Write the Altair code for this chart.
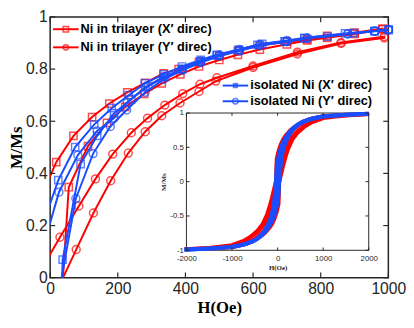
import altair as alt
import pandas as pd

RED = "#FF0000"
BLUE = "#1A4DFF"
AX = "#262626"

# ---------------- main panel ----------------
x_domain = [0, 1000]
y_domain = [0, 1]
x_ticks = [0, 200, 400, 600, 800, 1000]
y_ticks = [0, 0.2, 0.4, 0.6, 0.8, 1]

# Ni in trilayer, X' direction (squares): ascending branch then descending branch
rx_up_H = [33, 55, 112, 168, 222, 278, 330, 385, 440, 500, 555, 620, 700, 760, 819, 900, 983]
rx_up_M = [-0.10, 0.347, 0.505, 0.594, 0.655, 0.705, 0.745, 0.78, 0.81, 0.835, 0.855, 0.875, 0.895, 0.91, 0.92, 0.935, 0.952]
rx_dn_H = [983, 900, 819, 760, 700, 620, 555, 500, 440, 380, 336, 281, 228, 175, 124, 69, 18, -20]
rx_dn_M = [0.955, 0.94, 0.927, 0.915, 0.905, 0.89, 0.87, 0.85, 0.828, 0.80, 0.784, 0.747, 0.711, 0.668, 0.616, 0.544, 0.443, 0.33]

# Ni in trilayer, Y' direction (circles)
ry_up_H = [10, 77, 128, 179, 231, 281, 330, 384, 440, 490, 600, 731, 860, 988]
ry_up_M = [-0.078, 0.108, 0.248, 0.372, 0.478, 0.56, 0.621, 0.67, 0.714, 0.754, 0.806, 0.858, 0.898, 0.92]
ry_dn_H = [988, 860, 731, 600, 493, 443, 392, 339, 288, 240, 185, 134, 85, 29, -20]
ry_dn_M = [0.925, 0.902, 0.865, 0.812, 0.767, 0.742, 0.706, 0.662, 0.612, 0.556, 0.474, 0.379, 0.275, 0.155, 0.045]

# isolated Ni, X' direction (squares)
bx_up_H = [33, 37, 90, 139, 189, 240, 290, 340, 390, 445, 493, 558, 613, 694, 752, 872, 959, 1001]
bx_up_M = [-0.12, 0.069, 0.436, 0.544, 0.63, 0.685, 0.735, 0.77, 0.80, 0.83, 0.853, 0.872, 0.893, 0.906, 0.92, 0.937, 0.946, 0.949]
bx_dn_H = [1001, 959, 896, 820, 752, 694, 627, 558, 493, 445, 390, 335, 280, 232, 182, 130, 74, 24, -20]
bx_dn_M = [0.952, 0.946, 0.938, 0.925, 0.918, 0.906, 0.897, 0.875, 0.855, 0.835, 0.81, 0.78, 0.745, 0.70, 0.65, 0.587, 0.501, 0.374, 0.21]

# isolated Ni, Y' direction (circles)
by_up_H = [20, 76, 127, 178, 226, 281, 335, 390, 445, 500, 560, 620, 700, 760, 880, 960, 1000]
by_up_M = [-0.10, 0.304, 0.476, 0.58, 0.643, 0.711, 0.76, 0.795, 0.825, 0.85, 0.87, 0.89, 0.905, 0.918, 0.935, 0.945, 0.95]
by_dn_H = [1000, 960, 880, 760, 700, 620, 560, 500, 445, 390, 335, 281, 228, 189, 139, 82, 26, -20]
by_dn_M = [0.952, 0.946, 0.935, 0.92, 0.91, 0.895, 0.875, 0.855, 0.83, 0.80, 0.77, 0.73, 0.672, 0.612, 0.563, 0.47, 0.328, 0.12]

legend_labels = [
    "Ni in trilayer (X\u2032 direc)",
    "Ni in trilayer (Y\u2032 direc)",
    "isolated Ni (X\u2032 direc)",
    "isolated Ni (Y\u2032 direc)",
]

# ---------------- inset ----------------
in_x_domain = [-2000, 2000]
in_y_domain = [-1, 1]
in_x_ticks = [-2000, -1000, 0, 1000, 2000]
in_y_ticks = [-1, -0.5, 0, 0.5, 1]

irx_up_H = [-2000, -1500, -1000, -700, -500, -380, -280, -175, -124, -69, -18, 20, 37, 55, 112, 168, 280, 380, 500, 700, 1000, 1500, 2000]
irx_up_M = [-0.985, -0.97, -0.955, -0.91, -0.85, -0.80, -0.75, -0.67, -0.62, -0.54, -0.44, -0.33, 0.0, 0.35, 0.50, 0.59, 0.70, 0.78, 0.835, 0.895, 0.95, 0.97, 0.985]
irx_dn_H = [2000, 1500, 1000, 700, 500, 380, 280, 175, 124, 69, 18, -20, -37, -55, -112, -168, -280, -380, -500, -700, -1000, -1500, -2000]
irx_dn_M = [0.985, 0.97, 0.955, 0.91, 0.85, 0.80, 0.75, 0.67, 0.62, 0.54, 0.44, 0.33, 0.0, -0.35, -0.50, -0.59, -0.70, -0.78, -0.835, -0.895, -0.95, -0.97, -0.985]

iry_up_H = [-2000, -1500, -1000, -730, -600, -443, -339, -240, -134, -85, -29, 20, 38, 77, 128, 179, 231, 330, 440, 600, 730, 1000, 1500, 2000]
iry_up_M = [-0.985, -0.965, -0.93, -0.865, -0.81, -0.74, -0.66, -0.56, -0.38, -0.275, -0.155, -0.035, 0.0, 0.108, 0.248, 0.372, 0.478, 0.621, 0.714, 0.806, 0.858, 0.925, 0.965, 0.985]
iry_dn_H = [2000, 1500, 1000, 730, 600, 443, 339, 240, 134, 85, 29, -20, -38, -77, -128, -179, -231, -330, -440, -600, -730, -1000, -1500, -2000]
iry_dn_M = [0.985, 0.965, 0.93, 0.865, 0.81, 0.74, 0.66, 0.56, 0.38, 0.275, 0.155, 0.035, 0.0, -0.108, -0.248, -0.372, -0.478, -0.621, -0.714, -0.806, -0.858, -0.925, -0.965, -0.985]

ibx_up_H = [-2000, -1500, -1000, -752, -558, -445, -335, -232, -130, -74, -24, 20, 37, 90, 139, 189, 290, 390, 493, 694, 1000, 1500, 2000]
ibx_up_M = [-0.99, -0.975, -0.95, -0.918, -0.875, -0.835, -0.78, -0.70, -0.587, -0.501, -0.374, -0.21, 0.069, 0.436, 0.544, 0.63, 0.735, 0.80, 0.853, 0.906, 0.95, 0.975, 0.99]
ibx_dn_H = [2000, 1500, 1000, 752, 558, 445, 335, 232, 130, 74, 24, -20, -37, -90, -139, -189, -290, -390, -493, -694, -1000, -1500, -2000]
ibx_dn_M = [0.99, 0.975, 0.95, 0.918, 0.875, 0.835, 0.78, 0.70, 0.587, 0.501, 0.374, 0.21, -0.069, -0.436, -0.544, -0.63, -0.735, -0.80, -0.853, -0.906, -0.95, -0.975, -0.99]

iby_up_H = [-2000, -1500, -1000, -760, -560, -445, -335, -228, -139, -82, -26, 20, 34, 76, 127, 178, 281, 390, 500, 700, 1000, 1500, 2000]
iby_up_M = [-0.99, -0.975, -0.952, -0.92, -0.875, -0.83, -0.77, -0.672, -0.563, -0.47, -0.328, -0.12, 0.0, 0.304, 0.476, 0.58, 0.711, 0.795, 0.85, 0.905, 0.95, 0.975, 0.99]
iby_dn_H = [2000, 1500, 1000, 760, 560, 445, 335, 228, 139, 82, 26, -20, -34, -76, -127, -178, -281, -390, -500, -700, -1000, -1500, -2000]
iby_dn_M = [0.99, 0.975, 0.952, 0.92, 0.875, 0.83, 0.77, 0.672, 0.563, 0.47, 0.328, 0.12, 0.0, -0.304, -0.476, -0.58, -0.711, -0.795, -0.85, -0.905, -0.95, -0.975, -0.99]


def loop_df(aH, aM, dH, dM):
    H = list(aH) + list(dH)
    M = list(aM) + list(dM)
    return pd.DataFrame({"H": H, "M": M, "k": list(range(len(H)))})


LBL = "'' + datum.value"
W, HGT = 345, 266
IX0, IX1 = 139, 325
IY0, IY1 = 238, 98

xs = alt.Scale(domain=x_domain, nice=False, zero=False)
ys = alt.Scale(domain=y_domain, nice=False, zero=False)
x_axis = alt.Axis(orient="bottom", values=x_ticks, labelExpr=LBL, title="H(Oe)",
                  domain=False, ticks=False, grid=False, labelFlush=False, labelOverlap=False,
                  labelFont="Liberation Sans", labelFontSize=16, labelColor=AX, labelPadding=3,
                  titleFont="Liberation Serif", titleFontSize=17, titleFontWeight="bold",
                  titleColor="black", titlePadding=3)
y_axis = alt.Axis(orient="left", values=y_ticks, labelExpr=LBL, title="M/Ms",
                  domain=False, ticks=False, grid=False, labelFlush=False, labelOverlap=False,
                  labelFont="Liberation Sans", labelFontSize=16, labelColor=AX, labelPadding=3,
                  titleFont="Liberation Serif", titleFontSize=17, titleFontWeight="bold",
                  titleColor="black", titlePadding=0)
X = alt.X("H:Q", scale=xs, axis=x_axis)
Y = alt.Y("M:Q", scale=ys, axis=y_axis)


def series(df, color, shape, size):
    line = alt.Chart(df).mark_line(color=color, strokeWidth=2, clip=True).encode(
        x=X, y=Y, order=alt.Order("k:Q"))
    pts = alt.Chart(df).transform_filter("datum.H >= 0 && datum.M >= 0").mark_point(
        shape=shape, filled=False, color=color, size=size, strokeWidth=1.5).encode(x=X, y=Y)
    return [line, pts]


main_layers = []
main_layers += series(loop_df(rx_up_H, rx_up_M, rx_dn_H, rx_dn_M), RED, "square", 55)
main_layers += series(loop_df(ry_up_H, ry_up_M, ry_dn_H, ry_dn_M), RED, "circle", 65)
main_layers += series(loop_df(bx_up_H, bx_up_M, bx_dn_H, bx_dn_M), BLUE, "square", 55)
main_layers += series(loop_df(by_up_H, by_up_M, by_dn_H, by_dn_M), BLUE, "circle", 65)

# inward tick marks (MATLAB style box)
dfx = pd.DataFrame({"H": x_ticks})
dfy = pd.DataFrame({"M": y_ticks})
main_layers += [
    alt.Chart(dfx).mark_rule(color=AX, strokeWidth=1.2).encode(x=X, y=alt.datum(y_domain[0]), y2=alt.datum(y_domain[0] + 0.02)),
    alt.Chart(dfx).mark_rule(color=AX, strokeWidth=1.2).encode(x=X, y=alt.datum(y_domain[1]), y2=alt.datum(y_domain[1] - 0.02)),
    alt.Chart(dfy).mark_rule(color=AX, strokeWidth=1.2).encode(y=Y, x=alt.datum(x_domain[0]), x2=alt.datum(x_domain[0] + 15)),
    alt.Chart(dfy).mark_rule(color=AX, strokeWidth=1.2).encode(y=Y, x=alt.datum(x_domain[1]), x2=alt.datum(x_domain[1] - 15)),
]

# manual legends
dummy = pd.DataFrame({"a": [0]})
leg_specs = [
    (legend_labels[0], RED, "square", False, 3, 12.5),
    (legend_labels[1], RED, "circle", False, 3, 31),
    (legend_labels[2], BLUE, "square", True, 176, 70),
    (legend_labels[3], BLUE, "circle", False, 176, 86),
]
for lab, col, shp, fil, x0, yy in leg_specs:
    main_layers.append(alt.Chart(dummy).mark_rule(color=col, strokeWidth=2).encode(
        x=alt.value(x0), x2=alt.value(x0 + 26), y=alt.value(yy)))
    main_layers.append(alt.Chart(dummy).mark_point(shape=shp, filled=fil, color=col, size=30, strokeWidth=1.5).encode(
        x=alt.value(x0 + 13), y=alt.value(yy)))
    main_layers.append(alt.Chart(dummy).mark_text(align="left", baseline="middle", font="Liberation Sans",
                                                  fontWeight="bold", fontSize=13, color="black").encode(
        x=alt.value(x0 + 28), y=alt.value(yy), text=alt.value(lab)))

main = alt.layer(*main_layers)

# ---------------- inset layers ----------------
ixs = alt.Scale(domain=in_x_domain, range=[IX0, IX1], nice=False, zero=False)
iys = alt.Scale(domain=in_y_domain, range=[IY0, IY1], nice=False, zero=False)
ix_axis = alt.Axis(orient="bottom", offset=-(HGT - IY0), values=in_x_ticks, labelExpr=LBL, title="H(Oe)",
                   domain=False, ticks=False, grid=False, labelFlush=False, labelOverlap=False,
                   labelFont="Liberation Sans", labelFontSize=8, labelColor=AX, labelPadding=4,
                   titleFont="Liberation Serif", titleFontSize=7, titleFontWeight="bold",
                   titleColor=AX, titlePadding=2)
iy_axis = alt.Axis(orient="left", offset=-IX0, values=in_y_ticks, labelExpr=LBL, title="M/Ms",
                   domain=False, ticks=False, grid=False, labelFlush=False, labelOverlap=False,
                   labelFont="Liberation Sans", labelFontSize=8, labelColor=AX, labelPadding=3,
                   titleFont="Liberation Serif", titleFontSize=7, titleFontWeight="bold",
                   titleColor=AX, titlePadding=4)
IX = alt.X("H:Q", scale=ixs, axis=ix_axis)
IY = alt.Y("M:Q", scale=iys, axis=iy_axis)

frame = pd.DataFrame({"H": [in_x_domain[0]], "H2": [in_x_domain[1]],
                      "M": [in_y_domain[0]], "M2": [in_y_domain[1]]})
inset_layers = [
    alt.Chart(frame).mark_rect(fill="white", stroke=AX, strokeWidth=1).encode(
        x=IX, x2="H2:Q", y=IY, y2="M2:Q"),
]
for aH, aM, dH, dM, col, w in [
    (irx_up_H, irx_up_M, irx_dn_H, irx_dn_M, RED, 4),
    (iry_up_H, iry_up_M, iry_dn_H, iry_dn_M, RED, 4),
    (ibx_up_H, ibx_up_M, ibx_dn_H, ibx_dn_M, BLUE, 4),
    (iby_up_H, iby_up_M, iby_dn_H, iby_dn_M, BLUE, 4),
]:
    inset_layers.append(alt.Chart(loop_df(aH, aM, dH, dM)).mark_line(
        color=col, strokeWidth=w, strokeCap="square").encode(x=IX, y=IY, order=alt.Order("k:Q")))

idfx = pd.DataFrame({"H": in_x_ticks})
idfy = pd.DataFrame({"M": in_y_ticks})
inset_layers += [
    alt.Chart(idfx).mark_rule(color=AX, strokeWidth=1).encode(x=IX, y=alt.datum(in_y_domain[0]), y2=alt.datum(in_y_domain[0] + 0.04)),
    alt.Chart(idfx).mark_rule(color=AX, strokeWidth=1).encode(x=IX, y=alt.datum(in_y_domain[1]), y2=alt.datum(in_y_domain[1] - 0.04)),
    alt.Chart(idfy).mark_rule(color=AX, strokeWidth=1).encode(y=IY, x=alt.datum(in_x_domain[0]), x2=alt.datum(in_x_domain[0] + 70)),
    alt.Chart(idfy).mark_rule(color=AX, strokeWidth=1).encode(y=IY, x=alt.datum(in_x_domain[1]), x2=alt.datum(in_x_domain[1] - 70)),
]
inset = alt.layer(*inset_layers)

chart = alt.layer(main, inset).resolve_scale(x="independent", y="independent").properties(
    width=W, height=HGT,
    autosize=alt.AutoSizeParams(type="none"),
    padding={"left": 43, "top": 6, "right": 18, "bottom": 40},
).configure_view(stroke=AX, strokeWidth=1.5)

chart.save("out.html", embed_options={"renderer": "svg", "actions": False})
